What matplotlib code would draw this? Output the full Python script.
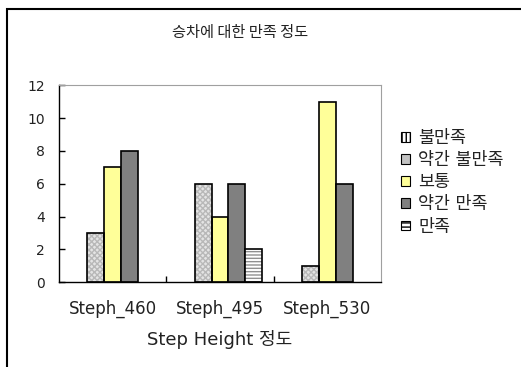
import matplotlib
matplotlib.use("Agg")
import matplotlib.pyplot as plt
from matplotlib.patches import Rectangle, Patch
import numpy as np

plt.rcParams['font.family'] = ['DejaVu Sans', 'Noto Sans CJK KR']

# 데이터
categories = ["Steph_460", "Steph_495", "Steph_530"]
series_names = ["불만족", "약간 불만족", "보통", "약간 만족", "만족"]
v_bulmanjok = [0, 0, 0]
v_yakgan_bulmanjok = [3, 6, 1]
v_botong = [7, 4, 11]
v_yakgan_manjok = [8, 6, 6]
v_manjok = [0, 2, 0]
values = [v_bulmanjok, v_yakgan_bulmanjok, v_botong, v_yakgan_manjok, v_manjok]

# 스타일 (면색, 해치, 해치색, 범례용 해치)
styles = [
    ("white", "|||||", "#707070", "||||"),
    ("#e4e4e4", "xxxxxx", "#b8b8b8", None),
    ("#ffff99", None, None, None),
    ("#808080", None, None, None),
    ("white", "-----", "#909090", "----"),
]

W, H = 521, 367
fig = plt.figure(figsize=(W / 100, H / 100), dpi=100)
ax = fig.add_axes([59 / W, 1 - 282.3 / H, (381 - 59) / W, (282.3 - 85.3) / H])

x = np.arange(len(categories))
bw = 0.158
handles = []
for i, (name, vals) in enumerate(zip(series_names, values)):
    fc, hatch, hc, lh = styles[i]
    pos = x + (i - 2) * bw
    keep = [j for j, v in enumerate(vals) if v > 0]
    p = pos[keep]
    v = [vals[j] for j in keep]
    if hatch:
        ax.bar(p, v, bw, color=fc, hatch=hatch, edgecolor=hc, linewidth=0, zorder=2)
        ax.bar(p, v, bw, fill=False, edgecolor="black", linewidth=1.2, zorder=3)
    else:
        ax.bar(p, v, bw, color=fc, edgecolor="black", linewidth=1.2, zorder=2)
    lfc = "#c2c2c2" if i == 1 else fc
    handles.append(Patch(facecolor=lfc, hatch=lh, edgecolor="black", linewidth=0.8, label=name))

ax.set_xlim(-0.5, 2.5)
ax.set_ylim(0, 12)
ax.set_yticks(range(0, 13, 2))
ax.set_xticks([0.5, 1.5])
ax.set_xticklabels([])
ax.set_xticks(x, minor=True)
ax.set_xticklabels(categories, minor=True)
ax.tick_params(axis="x", which="minor", length=0, pad=12.5, labelsize=12, labelcolor="#222222")
ax.tick_params(axis="x", which="major", direction="in", length=4, width=1)
ax.tick_params(axis="y", direction="in", length=4, width=1, pad=10, labelsize=10, labelcolor="#222222")

for s in ["top", "right"]:
    ax.spines[s].set_color("#a0a0a0")
for s in ["left", "bottom"]:
    ax.spines[s].set_color("black")
    ax.spines[s].set_linewidth(1)

ax.set_xlabel("Step Height 정도", fontsize=13, labelpad=9, color="#222222")
fig.text(240 / W, 1 - 33 / H, "승차에 대한 만족 정도", ha="center", va="center",
         fontsize=11, color="#222222", family=["Noto Sans CJK KR"])

fig.legend(handles=handles, loc="upper left", bbox_to_anchor=(401 / W, 1 - 129 / H),
           frameon=False, fontsize=12.5, handlelength=0.5, handleheight=0.5,
           handletextpad=0.5, labelspacing=0.24, borderpad=0, borderaxespad=0,
           labelcolor="#222222")

# 차트 외곽 테두리
fig.add_artist(Rectangle((7 / W, -0.1), 1.2, 1.1 - 9 / H, transform=fig.transFigure,
                         fill=False, edgecolor="black", linewidth=1.5))

fig.savefig("out.png", dpi=100)
